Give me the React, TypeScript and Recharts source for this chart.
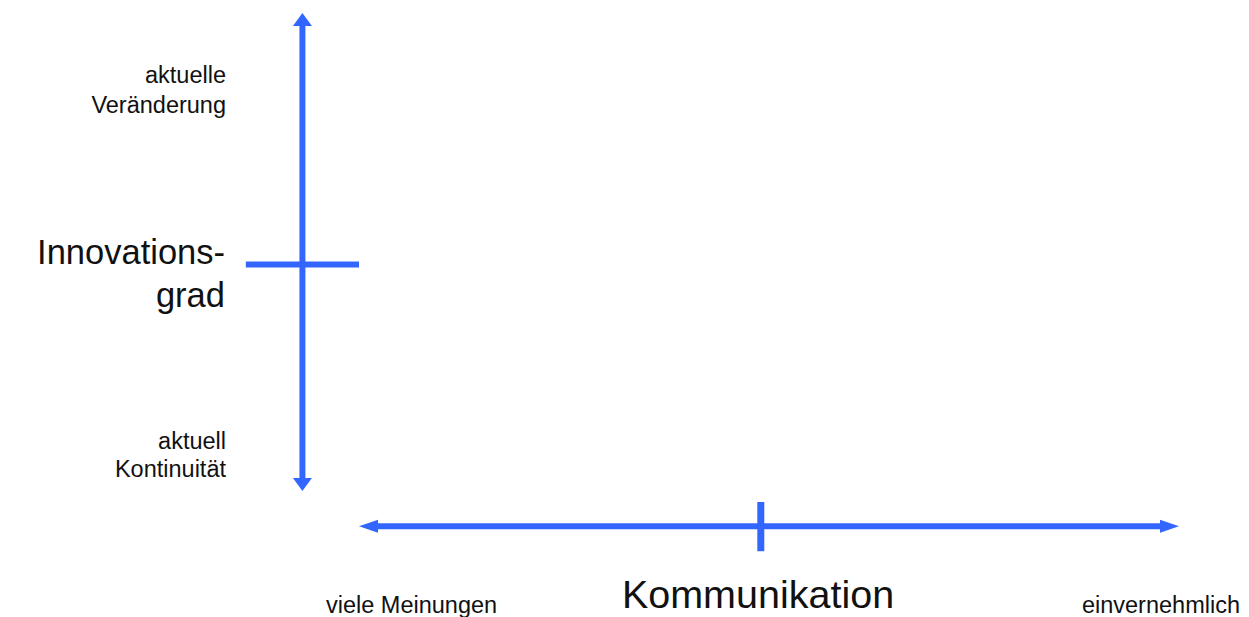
import React from "react";
import { ComposedChart, XAxis, YAxis, ReferenceLine } from "recharts";

// Conceptual coordinates: Kommunikation 0..100 (x), Innovationsgrad 0..100 (y)
const xDomain = [0, 100];
const yDomain = [0, 100];

// Horizontal arrow (Kommunikation)
const kommunikationX = [0, 100];
const kommunikationY = -7.4;
const kommunikationMidX = 49;
const kommunikationMidY = [-2.3, -12.6];

// Vertical arrow (Innovationsgrad)
const innovationX = -6.9;
const innovationY = [0, 100];
const innovationMidX = [-13.8, 0];
const innovationMidY = 47.4;

// Texts
const topLabel = ["aktuelle", "Veränderung"];
const bottomLabel = ["aktuell", "Kontinuität"];
const yTitle = ["Innovations-", "grad"];
const xTitle = "Kommunikation";
const xEndLabels = ["viele Meinungen", "einvernehmlich"];

const BLUE = "#3366FF";
const FONT = "'Liberation Sans', Arial, Helvetica, sans-serif";

const arrowShape = (headLen: number, headHalf: number) => (props: any) => {
  const { x1, y1, x2, y2 } = props;
  const dx = x2 - x1;
  const dy = y2 - y1;
  const len = Math.sqrt(dx * dx + dy * dy) || 1;
  const ux = dx / len;
  const uy = dy / len;
  const px = -uy;
  const py = ux;
  const b1x = x1 + ux * headLen;
  const b1y = y1 + uy * headLen;
  const b2x = x2 - ux * headLen;
  const b2y = y2 - uy * headLen;
  const tri = (tx: number, ty: number, bx: number, by: number) =>
    `${tx},${ty} ${bx + px * headHalf},${by + py * headHalf} ${bx - px * headHalf},${by - py * headHalf}`;
  return (
    <g>
      <line x1={b1x} y1={b1y} x2={b2x} y2={b2y} stroke={BLUE} strokeWidth={6} />
      <polygon points={tri(x1, y1, b1x, b1y)} fill={BLUE} />
      <polygon points={tri(x2, y2, b2x, b2y)} fill={BLUE} />
    </g>
  );
};

export default function App() {
  const small = 23.5;
  return (
    <div style={{ position: "absolute", left: 0, top: 0, width: 1249, height: 617, background: "#fff" }}>
      <ComposedChart
        width={1249}
        height={617}
        data={[]}
        margin={{ top: 13, right: 70, bottom: 126, left: 359 }}
      >
        <XAxis type="number" dataKey="x" domain={xDomain} allowDataOverflow hide />
        <YAxis type="number" dataKey="y" domain={yDomain} allowDataOverflow hide width={0} />
        <ReferenceLine
          ifOverflow="visible"
          segment={[
            { x: kommunikationX[0], y: kommunikationY },
            { x: kommunikationX[1], y: kommunikationY },
          ]}
          shape={arrowShape(19, 6.5)}
        />
        <ReferenceLine
          ifOverflow="visible"
          segment={[
            { x: kommunikationMidX, y: kommunikationMidY[0] },
            { x: kommunikationMidX, y: kommunikationMidY[1] },
          ]}
          stroke={BLUE}
          strokeWidth={7}
        />
        <ReferenceLine
          ifOverflow="visible"
          segment={[
            { x: innovationX, y: innovationY[0] },
            { x: innovationX, y: innovationY[1] },
          ]}
          shape={arrowShape(13, 9.5)}
        />
        <ReferenceLine
          ifOverflow="visible"
          segment={[
            { x: innovationMidX[0], y: innovationMidY },
            { x: innovationMidX[1], y: innovationMidY },
          ]}
          stroke={BLUE}
          strokeWidth={6}
        />
      </ComposedChart>
      <svg
        width={1249}
        height={617}
        style={{ position: "absolute", left: 0, top: 0, pointerEvents: "none" }}
        fontFamily={FONT}
        fill="#111"
      >
        <text x={226} y={83} fontSize={small} textAnchor="end">{topLabel[0]}</text>
        <text x={226} y={113} fontSize={small} textAnchor="end">{topLabel[1]}</text>
        <text x={226} y={449} fontSize={small} textAnchor="end">{bottomLabel[0]}</text>
        <text x={226} y={477} fontSize={small} textAnchor="end">{bottomLabel[1]}</text>
        <text x={225} y={264} fontSize={34.5} textAnchor="end">{yTitle[0]}</text>
        <text x={225} y={307} fontSize={34.5} textAnchor="end">{yTitle[1]}</text>
        <text x={758} y={608} fontSize={39.5} textAnchor="middle">{xTitle}</text>
        <text x={326} y={613} fontSize={small} textAnchor="start">{xEndLabels[0]}</text>
        <text x={1240} y={613} fontSize={small} textAnchor="end">{xEndLabels[1]}</text>
      </svg>
    </div>
  );
}
